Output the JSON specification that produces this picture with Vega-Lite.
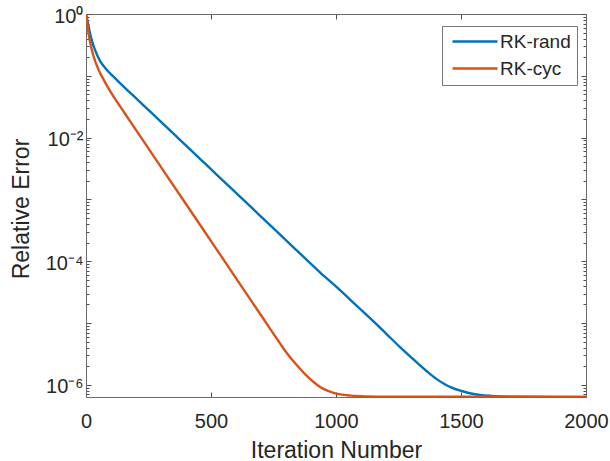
{
  "$schema": "https://vega.github.io/schema/vega-lite/v6.json",
  "autosize": {"type": "none"},
  "width": 500,
  "height": 383,
  "padding": {"left": 86, "top": 14, "right": 24, "bottom": 64},
  "background": "white",
  "config": {
    "font": "Liberation Sans",
    "view": {"stroke": null},
    "axis": {
      "domainColor": "#6b6b6b",
      "domainWidth": 1,
      "tickColor": "#4d4d4d",
      "tickWidth": 1,
      "labelColor": "#262626",
      "labelFont": "Liberation Sans",
      "labelFontSize": 20,
      "titleColor": "#262626",
      "titleFont": "Liberation Sans",
      "titleFontSize": 23,
      "titleFontWeight": "normal",
      "grid": false,
      "labelFlush": false,
      "labelOverlap": false
    }
  },
  "data": {
    "values": [
      {"series": "RK-rand", "iter": 0, "err": 1},
      {"series": "RK-rand", "iter": 8, "err": 0.708},
      {"series": "RK-rand", "iter": 16, "err": 0.49},
      {"series": "RK-rand", "iter": 25, "err": 0.355},
      {"series": "RK-rand", "iter": 36, "err": 0.263},
      {"series": "RK-rand", "iter": 56, "err": 0.174},
      {"series": "RK-rand", "iter": 80, "err": 0.129},
      {"series": "RK-rand", "iter": 109, "err": 0.0977},
      {"series": "RK-rand", "iter": 140, "err": 0.0733},
      {"series": "RK-rand", "iter": 176, "err": 0.0535},
      {"series": "RK-rand", "iter": 210, "err": 0.0398},
      {"series": "RK-rand", "iter": 243, "err": 0.0297},
      {"series": "RK-rand", "iter": 300, "err": 0.018},
      {"series": "RK-rand", "iter": 376, "err": 0.0092},
      {"series": "RK-rand", "iter": 456, "err": 0.00454},
      {"series": "RK-rand", "iter": 536, "err": 0.00224},
      {"series": "RK-rand", "iter": 616, "err": 0.00111},
      {"series": "RK-rand", "iter": 700, "err": 0.000528},
      {"series": "RK-rand", "iter": 789, "err": 0.000241},
      {"series": "RK-rand", "iter": 883, "err": 0.000105},
      {"series": "RK-rand", "iter": 940, "err": 0.0000637},
      {"series": "RK-rand", "iter": 1003, "err": 0.000038},
      {"series": "RK-rand", "iter": 1080, "err": 0.0000195},
      {"series": "RK-rand", "iter": 1149, "err": 0.0000107},
      {"series": "RK-rand", "iter": 1200, "err": 0.00000676},
      {"series": "RK-rand", "iter": 1256, "err": 0.00000407},
      {"series": "RK-rand", "iter": 1310, "err": 0.00000257},
      {"series": "RK-rand", "iter": 1363, "err": 0.00000166},
      {"series": "RK-rand", "iter": 1400, "err": 0.00000126},
      {"series": "RK-rand", "iter": 1430, "err": 0.00000105},
      {"series": "RK-rand", "iter": 1460, "err": 0.000000912},
      {"series": "RK-rand", "iter": 1503, "err": 0.000000794},
      {"series": "RK-rand", "iter": 1540, "err": 0.000000724},
      {"series": "RK-rand", "iter": 1576, "err": 0.000000684},
      {"series": "RK-rand", "iter": 1620, "err": 0.000000661},
      {"series": "RK-rand", "iter": 1656, "err": 0.000000649},
      {"series": "RK-rand", "iter": 1750, "err": 0.000000641},
      {"series": "RK-rand", "iter": 2000, "err": 0.000000638},
      {"series": "RK-cyc", "iter": 0, "err": 1},
      {"series": "RK-cyc", "iter": 8, "err": 0.562},
      {"series": "RK-cyc", "iter": 16, "err": 0.355},
      {"series": "RK-cyc", "iter": 30, "err": 0.209},
      {"series": "RK-cyc", "iter": 50, "err": 0.126},
      {"series": "RK-cyc", "iter": 69, "err": 0.0891},
      {"series": "RK-cyc", "iter": 90, "err": 0.0624},
      {"series": "RK-cyc", "iter": 109, "err": 0.0468},
      {"series": "RK-cyc", "iter": 140, "err": 0.0305},
      {"series": "RK-cyc", "iter": 176, "err": 0.0185},
      {"series": "RK-cyc", "iter": 243, "err": 0.00735},
      {"series": "RK-cyc", "iter": 309, "err": 0.00295},
      {"series": "RK-cyc", "iter": 389, "err": 0.000977},
      {"series": "RK-cyc", "iter": 456, "err": 0.000389},
      {"series": "RK-cyc", "iter": 536, "err": 0.000129},
      {"series": "RK-cyc", "iter": 616, "err": 0.0000427},
      {"series": "RK-cyc", "iter": 696, "err": 0.0000141},
      {"series": "RK-cyc", "iter": 776, "err": 0.00000468},
      {"series": "RK-cyc", "iter": 800, "err": 0.00000339},
      {"series": "RK-cyc", "iter": 830, "err": 0.0000024},
      {"series": "RK-cyc", "iter": 856, "err": 0.00000182},
      {"series": "RK-cyc", "iter": 880, "err": 0.00000143},
      {"series": "RK-cyc", "iter": 909, "err": 0.00000112},
      {"series": "RK-cyc", "iter": 935, "err": 0.000000933},
      {"series": "RK-cyc", "iter": 963, "err": 0.000000813},
      {"series": "RK-cyc", "iter": 990, "err": 0.000000741},
      {"series": "RK-cyc", "iter": 1016, "err": 0.0000007},
      {"series": "RK-cyc", "iter": 1060, "err": 0.000000668},
      {"series": "RK-cyc", "iter": 1123, "err": 0.00000065},
      {"series": "RK-cyc", "iter": 1200, "err": 0.000000643},
      {"series": "RK-cyc", "iter": 2000, "err": 0.000000638}
    ]
  },
  "layer": [
    {
      "transform": [{"filter": "datum.series == 'RK-rand'"}],
      "mark": {"type": "line", "strokeWidth": 2.4, "clip": true, "interpolate": "monotone"},
      "encoding": {
        "x": {
          "field": "iter",
          "type": "quantitative",
          "scale": {"domain": [0, 2000], "nice": false, "zero": false},
          "axis": {
            "orient": "bottom",
            "values": [0, 500, 1000, 1500, 2000],
            "format": "d",
            "tickSize": -5,
            "labelPadding": 19,
            "title": "Iteration Number",
            "titleX": 250,
            "titleY": 60,
            "titleBaseline": "alphabetic",
            "titleAnchor": "middle"
          }
        },
        "y": {
          "field": "err",
          "type": "quantitative",
          "scale": {"type": "log", "domain": [0.000000635, 1], "nice": false},
          "axis": {
            "orient": "left",
            "values": [7e-7, 8e-7, 9e-7, 1e-6, 2e-6, 3e-6, 4e-6, 5e-6, 6e-6, 7e-6, 8e-6, 9e-6, 1e-5, 2e-5, 3e-5, 4e-5, 5e-5, 6e-5, 7e-5, 8e-5, 9e-5, 0.0001, 0.0002, 0.0003, 0.0004, 0.0005, 0.0006, 0.0007, 0.0008, 0.0009, 0.001, 0.002, 0.003, 0.004, 0.005, 0.006, 0.007, 0.008, 0.009, 0.01, 0.02, 0.03, 0.04, 0.05, 0.06, 0.07, 0.08, 0.09, 0.1, 0.2, 0.3, 0.4, 0.5, 0.6, 0.7, 0.8, 0.9, 1],
            "tickSize": {"condition": {"test": "abs(log(datum.value)/LN10 - round(log(datum.value)/LN10)) < 0.01", "value": -5}, "value": -3},
            "labelExpr": "abs(datum.value - 1) < 0.001 ? '10⁰' : abs(datum.value * 100 - 1) < 0.001 ? '10⁻²' : abs(datum.value * 10000 - 1) < 0.001 ? '10⁻⁴' : abs(datum.value * 1000000 - 1) < 0.001 ? '10⁻⁶' : ''",
            "labelPadding": 8,
            "labelOffset": 2,
            "title": "Relative Error",
            "titleAngle": -90,
            "titleX": -57.5,
            "titleY": 194.5,
            "titleBaseline": "alphabetic",
            "titleAlign": "center"
          }
        },
        "color": {
          "field": "series",
          "type": "nominal",
          "scale": {"domain": ["RK-rand", "RK-cyc"], "range": ["#0072BD", "#D95319"]},
          "legend": {
            "title": null,
            "orient": "none",
            "legendX": 356,
            "legendY": 12,
            "direction": "vertical",
            "symbolType": "M-1,0H8",
            "symbolSize": 100,
            "symbolStrokeWidth": 2.4,
            "labelFont": "Liberation Sans",
            "labelFontSize": 19,
            "labelColor": "#262626",
            "labelOffset": 33,
            "rowPadding": 7,
            "padding": 6,
            "strokeColor": "#777777",
            "fillColor": "white"
          }
        }
      }
    },
    {
      "transform": [{"filter": "datum.series == 'RK-cyc'"}],
      "mark": {"type": "line", "strokeWidth": 2.4, "clip": true, "interpolate": "monotone"},
      "encoding": {
        "x": {
          "field": "iter",
          "type": "quantitative",
          "scale": {"domain": [0, 2000], "nice": false, "zero": false},
          "axis": null
        },
        "y": {
          "field": "err",
          "type": "quantitative",
          "scale": {"type": "log", "domain": [0.000000635, 1], "nice": false},
          "axis": null
        },
        "color": {
          "field": "series",
          "type": "nominal",
          "scale": {"domain": ["RK-rand", "RK-cyc"], "range": ["#0072BD", "#D95319"]}
        }
      }
    },
    {
      "mark": {"type": "line", "opacity": 0},
      "encoding": {
        "x": {
          "field": "iter",
          "type": "quantitative",
          "scale": {"domain": [0, 2000], "nice": false, "zero": false},
          "axis": {
            "orient": "top",
            "values": [0, 500, 1000, 1500, 2000],
            "tickSize": -5,
            "labels": false,
            "title": null
          }
        },
        "y": {
          "field": "err",
          "type": "quantitative",
          "scale": {"type": "log", "domain": [0.000000635, 1], "nice": false},
          "axis": {
            "orient": "right",
            "values": [7e-7, 8e-7, 9e-7, 1e-6, 2e-6, 3e-6, 4e-6, 5e-6, 6e-6, 7e-6, 8e-6, 9e-6, 1e-5, 2e-5, 3e-5, 4e-5, 5e-5, 6e-5, 7e-5, 8e-5, 9e-5, 0.0001, 0.0002, 0.0003, 0.0004, 0.0005, 0.0006, 0.0007, 0.0008, 0.0009, 0.001, 0.002, 0.003, 0.004, 0.005, 0.006, 0.007, 0.008, 0.009, 0.01, 0.02, 0.03, 0.04, 0.05, 0.06, 0.07, 0.08, 0.09, 0.1, 0.2, 0.3, 0.4, 0.5, 0.6, 0.7, 0.8, 0.9, 1],
            "tickSize": {"condition": {"test": "abs(log(datum.value)/LN10 - round(log(datum.value)/LN10)) < 0.01", "value": -5}, "value": -3},
            "labels": false,
            "title": null
          }
        },
        "detail": {"field": "series", "type": "nominal"}
      }
    }
  ],
  "resolve": {"axis": {"x": "independent", "y": "independent"}}
}
